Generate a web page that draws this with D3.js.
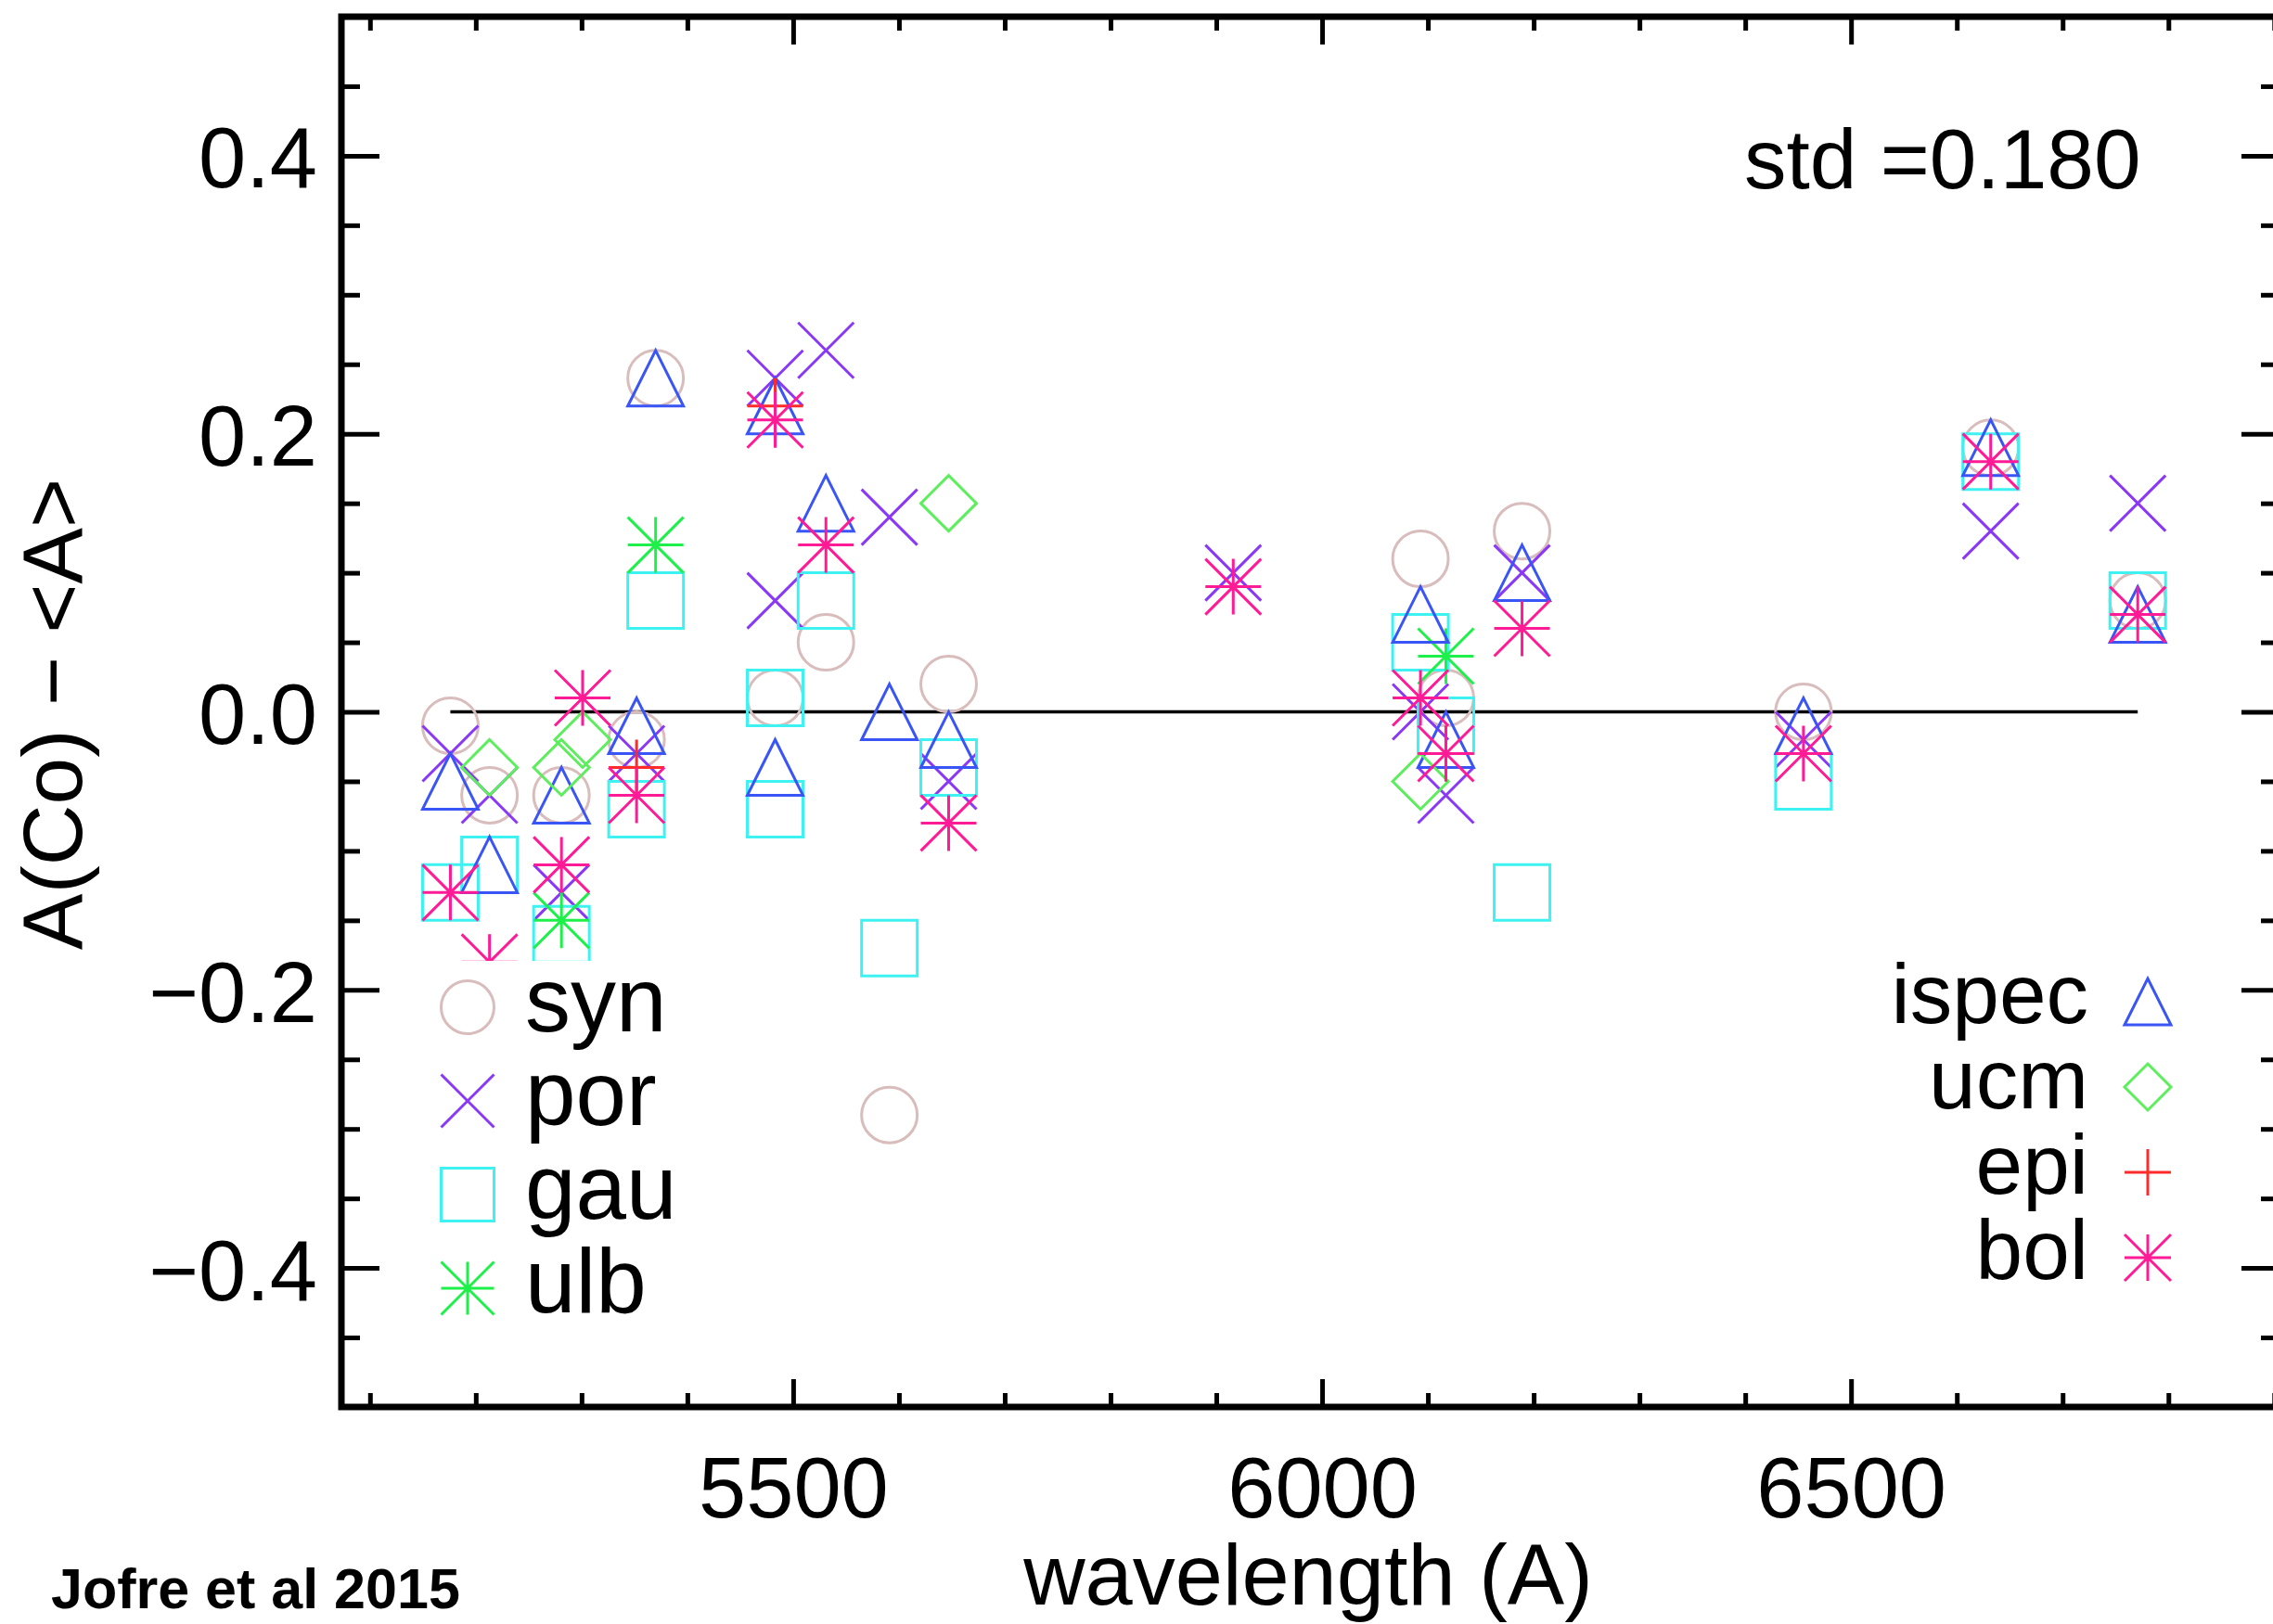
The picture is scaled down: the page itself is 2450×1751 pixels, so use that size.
<!DOCTYPE html>
<html>
<head>
<meta charset="utf-8">
<title>A(Co) − &lt;A&gt; vs wavelength</title>
<script src="https://cdn.jsdelivr.net/npm/d3@7/dist/d3.min.js"></script>
<style>
  html, body { margin: 0; padding: 0; background: #ffffff; }
  svg { display: block; }
  text { font-family: "Liberation Sans", Arial, Helvetica, sans-serif; fill: #000; }
</style>
</head>
<body>
<svg id="chart" width="2450" height="1751"></svg>
<script>
// Co I lines used in the comparison (wavelength, Å)
const coLines = [5176, 5213, 5281, 5301, 5352, 5370, 5483, 5531, 5591, 5647,
                 5916, 6093, 6117, 6189, 6455, 6632, 6771];

// Abundance deviations from the mean, per pipeline: [wavelength, A(Co) - <A>]
const syn = [[5176,-0.01],[5213,-0.06],[5281,-0.06],[5352,-0.02],[5370,0.24],[5483,0.01],
             [5531,0.05],[5591,-0.29],[5647,0.02],[6093,0.11],[6117,0.01],[6189,0.13],
             [6455,0.00],[6632,0.19],[6771,0.08]];
const por = [[5176,-0.03],[5213,-0.06],[5281,-0.13],[5352,-0.03],[5483,0.24],[5483,0.08],
             [5531,0.26],[5591,0.14],[5647,-0.05],[5916,0.10],[6093,0.00],[6117,-0.06],
             [6189,0.10],[6455,-0.02],[6632,0.13],[6771,0.15]];
const gau = [[5176,-0.13],[5213,-0.11],[5281,-0.16],[5352,-0.07],[5370,0.08],[5483,0.01],
             [5483,-0.07],[5531,0.08],[5591,-0.17],[5647,-0.04],[6093,0.05],[6117,-0.01],
             [6189,-0.13],[6455,-0.05],[6632,0.18],[6771,0.08]];
const ulb = [[5281,-0.15],[5370,0.12],[6117,0.04]];
const ispec = [[5176,-0.05],[5213,-0.11],[5281,-0.06],[5352,-0.01],[5370,0.24],[5483,0.22],
               [5483,-0.04],[5531,0.15],[5591,0.00],[5647,-0.02],[6093,0.07],[6117,-0.02],
               [6189,0.10],[6455,-0.01],[6632,0.19],[6771,0.07]];
const ucm = [[5213,-0.04],[5281,-0.04],[5301,-0.02],[5647,0.15],[6093,-0.05]];
const epi = [[5352,-0.04],[5483,0.22],[6117,-0.03]];
const bol = [[5176,-0.13],[5213,-0.18],[5281,-0.11],[5301,0.01],[5352,-0.06],[5483,0.21],
             [5531,0.12],[5647,-0.08],[5916,0.09],[6093,0.01],[6117,-0.03],[6189,0.06],
             [6455,-0.03],[6632,0.18],[6771,0.07]];

// Axis ticks and annotation text
const xMajorTicks = [5500, 6000, 6500];
const xMinorTicks = d3.range(5100, 6901, 100).filter(v => !xMajorTicks.includes(v));
const yMajorTicks = [-0.4, -0.2, 0.0, 0.2, 0.4];
const yMinorTicks = d3.range(-45, 46, 5).map(v => v / 100)
                      .filter(v => !yMajorTicks.some(t => Math.abs(t - v) < 1e-9));
const stdLabel = "std =0.180";
const xTitle = "wavelength (A)";
const yTitle = "A(Co) − <A>";
const creditText = "Jofre et al 2015";

// Legend groups (left and right columns)
const legendLeft = ["syn", "por", "gau", "ulb"];
const legendRight = ["ispec", "ucm", "epi", "bol"];

// Plotting symbols and colours per pipeline
const style = {
  syn:   { sym: "circle",   color: "#d9bcbc" },
  por:   { sym: "cross",    color: "#8a38f5" },
  gau:   { sym: "square",   color: "#3ef2f2" },
  ulb:   { sym: "asterisk", color: "#1ef04a" },
  ispec: { sym: "triangle", color: "#3a55f5" },
  ucm:   { sym: "diamond",  color: "#5cee5c" },
  epi:   { sym: "plus",     color: "#ff2a2a" },
  bol:   { sym: "asterisk", color: "#ff1a96" }
};
const seriesData = { syn, por, gau, ulb, ispec, ucm, epi, bol };
const drawOrder = ["syn", "por", "gau", "ulb", "ispec", "ucm", "epi", "bol"];

// ---- layout ----
const svg = d3.select("#chart");
const W = 2450, H = 1751;
const frame = { left: 368, right: 2457, top: 18, bottom: 1517 };

svg.append("rect").attr("width", W).attr("height", H).attr("fill", "#fff");

const x = d3.scaleLinear().domain([5073, 6905]).range([frame.left, frame.right]);
const y = d3.scaleLinear().domain([-0.5, 0.5]).range([frame.bottom, frame.top]);

// symbol outlines centred on (0,0) with half-size h
function symbolPath(type, h) {
  const p = d3.path();
  switch (type) {
    case "circle":
      p.moveTo(h, 0); p.arc(0, 0, h, 0, 2 * Math.PI); break;
    case "cross":
      p.moveTo(-h, -h); p.lineTo(h, h); p.moveTo(-h, h); p.lineTo(h, -h); break;
    case "square":
      p.rect(-h, -h, 2 * h, 2 * h); break;
    case "asterisk":
      p.moveTo(-h, 0); p.lineTo(h, 0); p.moveTo(0, -h); p.lineTo(0, h);
      p.moveTo(-h, -h); p.lineTo(h, h); p.moveTo(-h, h); p.lineTo(h, -h); break;
    case "triangle":
      p.moveTo(-h, h); p.lineTo(0, -h); p.lineTo(h, h); p.closePath(); break;
    case "diamond":
      p.moveTo(0, -h); p.lineTo(h, 0); p.lineTo(0, h); p.lineTo(-h, 0); p.closePath(); break;
    case "plus":
      p.moveTo(-h, 0); p.lineTo(h, 0); p.moveTo(0, -h); p.lineTo(0, h); break;
  }
  return p.toString();
}

// ---- zero reference line across the line list ----
const zeroLine = d3.line().x(d => x(d)).y(() => y(0));
svg.append("path")
  .attr("d", zeroLine(d3.extent(coLines)))
  .attr("fill", "none").attr("stroke", "#000").attr("stroke-width", 3.5);

// ---- data points ----
const pts = svg.append("g").attr("class", "points");
drawOrder.forEach(name => {
  const st = style[name];
  pts.append("g").attr("class", "series-" + name)
    .selectAll("path")
    .data(seriesData[name])
    .join("path")
    .attr("transform", d => `translate(${x(d[0])},${y(d[1])})`)
    .attr("d", symbolPath(st.sym, 30))
    .attr("fill", "none")
    .attr("stroke", st.color)
    .attr("stroke-width", 3)
    .attr("stroke-linejoin", "miter");
});

// ---- legends (opaque boxes) ----
svg.append("rect").attr("x", 420).attr("y", 1036).attr("width", 340).attr("height", 414).attr("fill", "#fff");
svg.append("rect").attr("x", 2000).attr("y", 1030).attr("width", 360).attr("height", 370).attr("fill", "#fff");

const legL = svg.append("g").attr("class", "legend-left");
legendLeft.forEach((name, i) => {
  const base = 1112 + i * 101;
  legL.append("path")
    .attr("transform", `translate(504,${base - 26})`)
    .attr("d", symbolPath(style[name].sym, 28.5))
    .attr("fill", "none").attr("stroke", style[name].color).attr("stroke-width", 3);
  legL.append("text").attr("x", 566).attr("y", base)
    .attr("font-size", 98).text(name);
});

const legR = svg.append("g").attr("class", "legend-right");
legendRight.forEach((name, i) => {
  const base = 1103 + i * 92;
  legR.append("path")
    .attr("transform", `translate(2315,${base - 23})`)
    .attr("d", symbolPath(style[name].sym, 25))
    .attr("fill", "none").attr("stroke", style[name].color).attr("stroke-width", 3);
  legR.append("text").attr("x", 2251).attr("y", base)
    .attr("text-anchor", "end").attr("font-size", 91).text(name);
});

// ---- axes (ticks pointing inward on all four sides) ----
function styleAxis(g, width) {
  g.select(".domain").remove();
  g.selectAll(".tick line").attr("stroke", "#000").attr("stroke-width", width);
}

// bottom: major with labels, then minor
const gxB = svg.append("g").attr("transform", `translate(0,${frame.bottom})`)
  .call(d3.axisBottom(x).tickValues(xMajorTicks).tickSize(-30).tickSizeOuter(0)
        .tickPadding(54).tickFormat(d3.format("d")));
styleAxis(gxB, 5);
gxB.selectAll("text").attr("font-size", 92).attr("font-family", "Liberation Sans, Arial, sans-serif").attr("fill", "#000");
styleAxis(svg.append("g").attr("transform", `translate(0,${frame.bottom})`)
  .call(d3.axisBottom(x).tickValues(xMinorTicks).tickSize(-15).tickSizeOuter(0).tickFormat("")), 5);

// top
styleAxis(svg.append("g").attr("transform", `translate(0,${frame.top})`)
  .call(d3.axisTop(x).tickValues(xMajorTicks).tickSize(-30).tickSizeOuter(0).tickFormat("")), 5);
styleAxis(svg.append("g").attr("transform", `translate(0,${frame.top})`)
  .call(d3.axisTop(x).tickValues(xMinorTicks).tickSize(-15).tickSizeOuter(0).tickFormat("")), 5);

// left: major with labels, then minor
const gyL = svg.append("g").attr("transform", `translate(${frame.left},0)`)
  .call(d3.axisLeft(y).tickValues(yMajorTicks).tickSize(-41).tickSizeOuter(0)
        .tickPadding(26).tickFormat(d3.format(".1f")));
styleAxis(gyL, 5);
gyL.selectAll("text").attr("font-size", 92).attr("dy", "0.37em")
  .attr("font-family", "Liberation Sans, Arial, sans-serif").attr("fill", "#000");
styleAxis(svg.append("g").attr("transform", `translate(${frame.left},0)`)
  .call(d3.axisLeft(y).tickValues(yMinorTicks).tickSize(-20).tickSizeOuter(0).tickFormat("")), 5);

// right
styleAxis(svg.append("g").attr("transform", `translate(${frame.right},0)`)
  .call(d3.axisRight(y).tickValues(yMajorTicks).tickSize(-41).tickSizeOuter(0).tickFormat("")), 5);
styleAxis(svg.append("g").attr("transform", `translate(${frame.right},0)`)
  .call(d3.axisRight(y).tickValues(yMinorTicks).tickSize(-20).tickSizeOuter(0).tickFormat("")), 5);

// plot frame
svg.append("rect")
  .attr("x", frame.left).attr("y", frame.top)
  .attr("width", frame.right - frame.left).attr("height", frame.bottom - frame.top)
  .attr("fill", "none").attr("stroke", "#000").attr("stroke-width", 7);

// ---- titles and annotations ----
svg.append("text").attr("x", 1410).attr("y", 1730)
  .attr("text-anchor", "middle").attr("font-size", 92).text(xTitle);

svg.append("text").attr("transform", "translate(88,770) rotate(-90)")
  .attr("text-anchor", "middle").attr("font-size", 91).text(yTitle);

svg.append("text").attr("x", 1880).attr("y", 203)
  .attr("font-size", 91).text(stdLabel);

// credit line in the lower-left corner
svg.append("text").attr("x", 55).attr("y", 1734)
  .attr("font-size", 61).attr("font-weight", "bold").text(creditText);
</script>
</body>
</html>
